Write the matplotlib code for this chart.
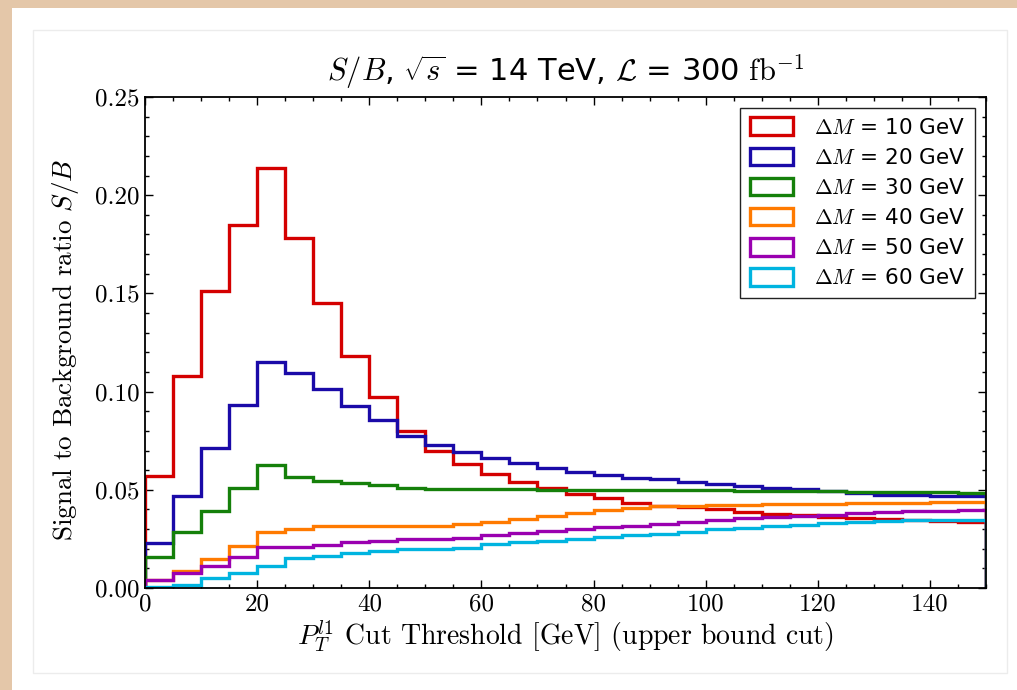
import numpy as np
import matplotlib
matplotlib.use("Agg")
import matplotlib.pyplot as plt
from matplotlib.patches import Rectangle
from matplotlib.ticker import MultipleLocator

# bin edges of the pT cut scan (GeV)
edges = np.arange(0, 155, 5)

labels = [r"$\Delta M$ = 10 GeV", r"$\Delta M$ = 20 GeV", r"$\Delta M$ = 30 GeV",
          r"$\Delta M$ = 40 GeV", r"$\Delta M$ = 50 GeV", r"$\Delta M$ = 60 GeV"]
colors = ["#d40000", "#1a0aa8", "#15800a", "#ff7a00", "#9a00b0", "#00b4e0"]

sb_10 = [0.057, 0.108, 0.151, 0.185, 0.214, 0.178, 0.145, 0.118, 0.097, 0.080,
         0.070, 0.063, 0.058, 0.054, 0.051, 0.048, 0.046, 0.0435, 0.042, 0.041,
         0.040, 0.0385, 0.0375, 0.037, 0.0363, 0.0358, 0.035, 0.0345, 0.034, 0.0338]
sb_20 = [0.0227, 0.047, 0.0711, 0.0932, 0.1149, 0.1096, 0.1013, 0.0927, 0.0855, 0.0776,
         0.0730, 0.0694, 0.0664, 0.0635, 0.0611, 0.0592, 0.0575, 0.0562, 0.0553, 0.0541,
         0.053, 0.0519, 0.0511, 0.0502, 0.0494, 0.0482, 0.0476, 0.0472, 0.047, 0.047]
sb_30 = [0.016, 0.0287, 0.0394, 0.0508, 0.0626, 0.0567, 0.0546, 0.0536, 0.0524, 0.0510,
         0.0505, 0.0503, 0.0502, 0.0502, 0.0501, 0.0501, 0.0500, 0.0500, 0.0499, 0.0498,
         0.0497, 0.0496, 0.0495, 0.0494, 0.0492, 0.0491, 0.0490, 0.0489, 0.0487, 0.0486]
sb_40 = [0.004, 0.0088, 0.0149, 0.0214, 0.0287, 0.0300, 0.0314, 0.0318, 0.0318, 0.0318,
         0.0318, 0.0326, 0.0338, 0.0353, 0.0367, 0.0384, 0.0397, 0.0409, 0.0416, 0.0420,
         0.0422, 0.0424, 0.0426, 0.0428, 0.0430, 0.0432, 0.0434, 0.0435, 0.0436, 0.0437]
sb_50 = [0.0041, 0.0075, 0.0114, 0.016, 0.0207, 0.021, 0.0219, 0.0233, 0.0241, 0.0248,
         0.0250, 0.0256, 0.0268, 0.0278, 0.0290, 0.0300, 0.0311, 0.0317, 0.0326, 0.0336,
         0.0344, 0.0355, 0.0362, 0.0366, 0.0372, 0.0380, 0.0386, 0.0390, 0.0394, 0.0395]
sb_60 = [0.0003, 0.0015, 0.0049, 0.0075, 0.0112, 0.0151, 0.0163, 0.0177, 0.0187, 0.0197,
         0.0199, 0.0205, 0.0222, 0.0233, 0.0241, 0.0249, 0.0261, 0.027, 0.0275, 0.0287,
         0.0299, 0.0307, 0.0316, 0.0321, 0.033, 0.0334, 0.0341, 0.0345, 0.0346, 0.0347]

series = [sb_10, sb_20, sb_30, sb_40, sb_50, sb_60]

plt.rcParams['mathtext.fontset'] = 'cm'
plt.rcParams['axes.unicode_minus'] = False

fig = plt.figure(figsize=(10.17, 6.9), dpi=100)
fig.patch.set_facecolor("#e4c7a9")
# white page with a faint inner frame
fig.patches.append(Rectangle((12 / 1017, 0), 1, 1 - 8 / 690, transform=fig.transFigure,
                             facecolor="white", edgecolor="none", zorder=-2))
fig.patches.append(Rectangle((33 / 1017, 17 / 690), (1007 - 33) / 1017, (673 - 30) / 690,
                             transform=fig.transFigure, facecolor="white",
                             edgecolor="#ececec", linewidth=1, zorder=-1))

ax = fig.add_axes([145 / 1017, 102 / 690, 841 / 1017, 491 / 690])

centers = edges[:-1] + 2.5
for vals, col, lab in zip(series, colors, labels):
    ax.hist(centers, bins=edges, weights=vals, histtype="step",
            color=col, linewidth=2.4, label=lab)

ax.set_xlim(0, 150)
ax.set_ylim(0, 0.25)
ax.xaxis.set_major_locator(MultipleLocator(20))
ax.xaxis.set_minor_locator(MultipleLocator(5))
ax.yaxis.set_major_locator(MultipleLocator(0.05))
ax.yaxis.set_minor_locator(MultipleLocator(0.01))
ax.yaxis.set_major_formatter(matplotlib.ticker.FormatStrFormatter("%.2f"))
ax.tick_params(which="both", direction="in", top=True, right=True)
ax.tick_params(which="major", length=6, width=1, labelsize=18, pad=4)
ax.tick_params(which="minor", length=3, width=1)
for lbl in ax.get_xticklabels() + ax.get_yticklabels():
    lbl.set_fontfamily("cmr10")
for sp in ax.spines.values():
    sp.set_linewidth(1.3)

ax.set_xlabel(r"$P_T^{l1}$ Cut Threshold [GeV] (upper bound cut)", fontfamily="cmr10",
              fontsize=20, labelpad=2)
ax.set_ylabel(r"Signal to Background ratio $S/B$", fontfamily="cmr10", fontsize=19.5)
ax.yaxis.set_label_coords(-0.076, 0.485)
ax.set_title(r"$S/B$, $\sqrt{s}$ = 14 TeV, $\mathcal{L}$ = 300 $\mathrm{fb}^{-1}$",
             fontsize=22, pad=12)

leg = ax.legend(loc="upper right", fontsize=15.5, fancybox=False, framealpha=1,
                edgecolor="#222222", borderaxespad=0.5, handlelength=2.0,
                handleheight=0.9, labelspacing=0.45, borderpad=0.45, handletextpad=1.0)
leg.get_frame().set_linewidth(1.0)

fig.savefig("out.png", dpi=100, facecolor=fig.get_facecolor())
